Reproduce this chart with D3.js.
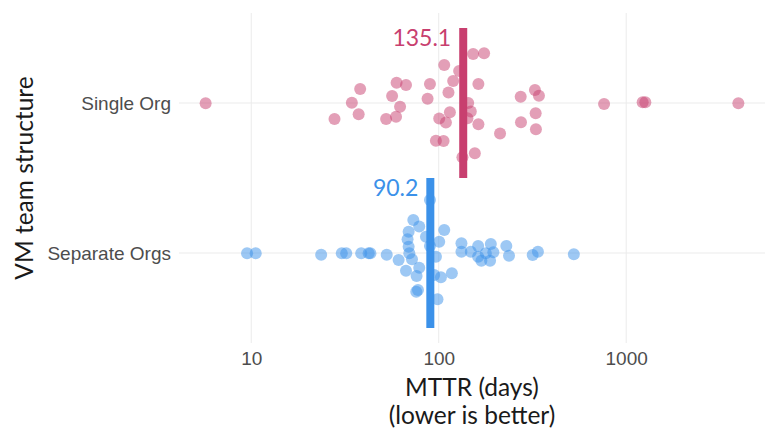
<!DOCTYPE html>
<html>
<head>
<meta charset="utf-8">
<script src="https://cdn.jsdelivr.net/npm/d3@7"></script>
<style>
  html, body { margin: 0; padding: 0; background: #fff; }
  svg { display: block; font-family: "Source Sans Pro", Lato, "Open Sans", sans-serif; }
</style>
</head>
<body>
<svg id="chart" width="765" height="430"></svg>
<script>
// Team structures (y categories) and their summary MTTR in days
const categories = ["Single Org", "Separate Orgs"];
const summaryDays = [135.1, 90.2];
const seriesColors = ["#c83f6f", "#3b91e9"];
const xTicks = [10, 100, 1000];

// Individual MTTR values (days) per organisation, with their swarm offsets
// (offset in category units, positive = downward)
const singleOrgDays = [5.71, 27.8, 34.4, 37.4, 38.1, 52.4, 56.4, 59.2, 59.6, 62.2, 66.9,
  87.2, 89.8, 96.6, 100.6, 106.1, 107.0, 109.2, 112.7, 114.7, 119.4, 128.5, 133.8,
  142.3, 143.6, 148.3, 152.6, 155.8, 162.8, 162.8, 174.6, 212.4, 273.7, 274.7,
  326.1, 328.9, 330.0, 342.4, 762, 1224, 1265, 3966];
const singleOrgOffset = [0.002, 0.107, -0.002, 0.075, -0.093, 0.107, -0.047, 0.091, -0.135, 0.025, -0.12,
  -0.029, -0.127, 0.251, 0.103, 0.253, -0.253, 0.13, -0.07, 0.062, -0.147, -0.213, 0.362,
  0.102, 0, 0.057, -0.327, 0.335, -0.127, 0.142, -0.331, 0.203, -0.042, 0.129,
  -0.087, 0.069, 0.175, -0.049, 0.007, -0.005, -0.005, 0.002];

const separateOrgsDays = [9.50, 10.56, 23.6, 30.4, 32.1, 38.6, 42.3, 43.2, 52.8, 61.1, 66.9,
  69.1, 68.2, 69.1, 69.7, 72.0, 73.2, 78.7, 78.7, 76.2, 75.9, 77.5, 85.5, 89.8, 89.8,
  96.6, 94.6, 100.6, 102.7, 107.0, 117.5, 98.5, 132.2, 132.2, 148.3, 162.3, 162.3,
  168.9, 178.3, 187.9, 189.6, 195.6, 229.4, 237.1, 317.0, 338.2, 525.7];
const separateOrgsOffset = [0.002, 0.002, 0.011, 0.002, 0.002, 0.002, 0.002, 0.002, 0.011, 0.047, 0.118,
  -0.142, -0.091, -0.042, 0.002, 0.042, -0.22, -0.177, 0.098, 0.153, 0.258, 0.247, -0.109, -0.353, -0.047,
  0.025, 0.147, -0.075, 0.162, -0.153, 0.135, 0.309, -0.065, -0.009, -0.009, -0.047, 0.025,
  0.051, 0.002, 0.051, -0.06, -0.005, -0.047, 0.018, 0.013, -0.009, 0.009];

const rows = [
  { cat: categories[0], days: singleOrgDays, offset: singleOrgOffset, color: seriesColors[0], summary: summaryDays[0] },
  { cat: categories[1], days: separateOrgsDays, offset: separateOrgsOffset, color: seriesColors[1], summary: summaryDays[1] }
];

const panel = { left: 179, right: 765, top: 13, bottom: 343 };

const svg = d3.select("#chart");

// Log x scale, padded by 5% of the log range on each side
const allDays = singleOrgDays.concat(separateOrgsDays);
const [lo, hi] = d3.extent(allDays).map(Math.log10);
const pad = (hi - lo) * 0.05;
const x = d3.scaleLog()
  .domain([Math.pow(10, lo - pad), Math.pow(10, hi + pad)])
  .range([panel.left, panel.right]);

// Discrete y scale with 0.6 category units of padding top and bottom
const step = (panel.bottom - panel.top) / (categories.length - 1 + 1.2);
const y = d3.scalePoint()
  .domain(categories)
  .range([panel.top + 0.6 * step, panel.bottom - 0.6 * step]);

// Grid lines
const grid = svg.append("g").attr("stroke", "#ebebeb").attr("stroke-width", 1);
grid.selectAll(".gx").data(xTicks).join("line")
  .attr("x1", d => x(d)).attr("x2", d => x(d))
  .attr("y1", panel.top).attr("y2", panel.bottom);
grid.selectAll(".gy").data(categories).join("line")
  .attr("x1", panel.left).attr("x2", panel.right)
  .attr("y1", d => y(d)).attr("y2", d => y(d));

// Points
const pts = svg.append("g");
rows.forEach(r => {
  pts.append("g").selectAll("circle")
    .data(r.days.map((d, i) => ({ d, o: r.offset[i] })))
    .join("circle")
    .attr("cx", p => x(p.d))
    .attr("cy", p => y(r.cat) + p.o * step)
    .attr("r", 6)
    .attr("fill", r.color)
    .attr("fill-opacity", 0.5);
});

// Summary bars and their value labels
const barW = 8;
rows.forEach(r => {
  svg.append("rect")
    .attr("x", x(r.summary) - barW / 2)
    .attr("y", y(r.cat) - step / 2)
    .attr("width", barW)
    .attr("height", step)
    .attr("fill", r.color);
  svg.append("text")
    .attr("x", x(r.summary) - barW / 2 - 8)
    .attr("y", y(r.cat) - step / 2 + 18)
    .attr("text-anchor", "end")
    .attr("fill", r.color)
    .attr("font-size", 23)
    .text(d3.format(".1f")(r.summary));
});

// Axes
const xAxis = svg.append("g")
  .attr("transform", `translate(0,${panel.bottom})`)
  .call(d3.axisBottom(x).tickValues(xTicks).tickFormat(d3.format("d")).tickSize(0).tickPadding(9));
xAxis.select(".domain").remove();
xAxis.selectAll("text").attr("font-size", 19).attr("fill", "#4d4d4d").attr("font-family", null);

const yAxis = svg.append("g")
  .attr("transform", `translate(${panel.left - 8},0)`)
  .call(d3.axisLeft(y).tickSize(0).tickPadding(0));
yAxis.select(".domain").remove();
yAxis.selectAll("text").attr("font-size", 19).attr("fill", "#4d4d4d").attr("font-family", null);

// Axis titles
const cx = (panel.left + panel.right) / 2;
const xTitle = svg.append("text")
  .attr("x", cx)
  .attr("y", 396)
  .attr("text-anchor", "middle")
  .attr("font-size", 24.5)
  .attr("fill", "#1a1a1a");
xTitle.append("tspan").attr("x", cx).text("MTTR (days)");
xTitle.append("tspan").attr("x", cx).attr("dy", 28).text("(lower is better)");

svg.append("text")
  .attr("transform", `translate(33,${(panel.top + panel.bottom) / 2}) rotate(-90)`)
  .attr("text-anchor", "middle")
  .attr("font-size", 24.5)
  .attr("fill", "#1a1a1a")
  .text("VM team structure");
</script>
</body>
</html>
